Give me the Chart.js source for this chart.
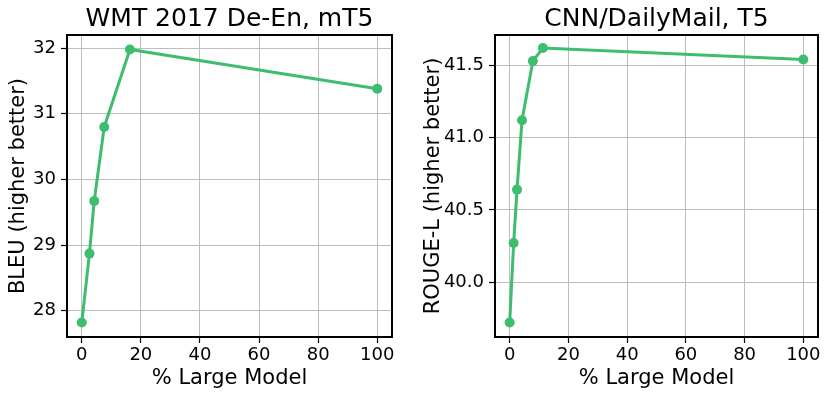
<!DOCTYPE html>
<html>
<head>
<meta charset="utf-8">
<script src="https://cdn.jsdelivr.net/npm/chart.js@4/dist/chart.umd.min.js"></script>
<style>
    body { margin: 0; background: #fff; }
    .panel { position: absolute; top: 0; }
</style>
</head>
<body>
<div class="panel" style="left:0"><canvas id="wmtChart" width="415" height="397"></canvas></div>
<div class="panel" style="left:415px"><canvas id="cnnChart" width="415" height="397"></canvas></div>
<script>
// WMT 2017 De-En, mT5
const wmtLarge = [0, 2.6, 4.2, 7.6, 16.3, 100];
const wmtBleu = [27.82, 28.87, 29.67, 30.80, 31.98, 31.38];
const wmtTicks = [28, 29, 30, 31, 32];

// CNN/DailyMail, T5
const cnnLarge = [0, 1.35, 2.5, 4.2, 7.9, 11.3, 100];
const cnnRouge = [39.72, 40.27, 40.64, 41.12, 41.53, 41.62, 41.54];
const cnnTicks = [40.0, 40.5, 41.0, 41.5];

const xTicks = [0, 20, 40, 60, 80, 100];

const green = '#3ebd6f';
const fontFamily = '"DejaVu Sans", sans-serif';

Chart.defaults.font.family = fontFamily;
Chart.defaults.color = '#000';

const frame = {
    id: 'frame',
    afterDraw(chart) {
        const a = chart.chartArea;
        const ctx = chart.ctx;
        ctx.save();
        ctx.strokeStyle = '#000';
        ctx.lineWidth = 2;
        ctx.strokeRect(a.left, a.top, a.right - a.left, a.bottom - a.top);
        ctx.restore();
    }
};

function makeChart(id, title, yLabel, xs, ys, yTicks, yMin, yMax, yWidth, rightPad, digits) {
    const ctx = document.getElementById(id).getContext('2d');
    return new Chart(ctx, {
        type: 'line',
        data: {
            datasets: [
                {
                    data: xs.map((x, i) => ({ x: x, y: ys[i] })),
                    borderColor: green,
                    backgroundColor: green,
                    borderWidth: 3,
                    pointRadius: 5,
                    pointHoverRadius: 5,
                    pointBorderWidth: 0,
                    fill: false,
                    tension: 0
                }
            ]
        },
        options: {
            responsive: false,
            animation: false,
            devicePixelRatio: 1,
            layout: { padding: { left: 0, right: rightPad, top: 0, bottom: 0 } },
            plugins: {
                legend: { display: false },
                tooltip: { enabled: false },
                title: {
                    display: true,
                    text: title,
                    fullSize: false,
                    color: '#000',
                    font: { size: 25, weight: 'normal', lineHeight: 1.2 },
                    padding: { top: 4, bottom: 1 }
                }
            },
            scales: {
                x: {
                    type: 'linear',
                    min: -5,
                    max: 105,
                    afterFit: (s) => { s.height = 60; },
                    afterBuildTicks: (s) => { s.ticks = xTicks.map(v => ({ value: v })); },
                    grid: { color: '#bdbdbd', lineWidth: 1, drawTicks: true, tickLength: 6, tickColor: '#000', tickWidth: 1.2 },
                    border: { display: false },
                    ticks: { font: { size: 18 }, padding: 2, maxRotation: 0, color: '#000' },
                    title: { display: true, text: '% Large Model', font: { size: 21 }, padding: { top: 0, bottom: 6 }, color: '#000' }
                },
                y: {
                    type: 'linear',
                    min: yMin,
                    max: yMax,
                    afterFit: (s) => { s.width = yWidth; },
                    afterBuildTicks: (s) => { s.ticks = yTicks.map(v => ({ value: v })); },
                    grid: { color: '#bdbdbd', lineWidth: 1, drawTicks: true, tickLength: 6, tickColor: '#000', tickWidth: 1.2 },
                    border: { display: false },
                    ticks: { font: { size: 18 }, padding: 5, color: '#000', callback: (v) => v.toFixed(digits) },
                    title: { display: true, text: yLabel, font: { size: 21 }, padding: { top: 6, bottom: 0 }, color: '#000' }
                }
            }
        },
        plugins: [frame]
    });
}

document.addEventListener('DOMContentLoaded', function () {
    makeChart('wmtChart', 'WMT 2017 De-En, mT5', 'BLEU (higher better)', wmtLarge, wmtBleu, wmtTicks, 27.6, 32.2, 67, 23, 0);
    makeChart('cnnChart', 'CNN/DailyMail, T5', 'ROUGE-L (higher better)', cnnLarge, cnnRouge, cnnTicks, 39.62, 41.71, 80, 12, 1);
});
</script>
</body>
</html>
